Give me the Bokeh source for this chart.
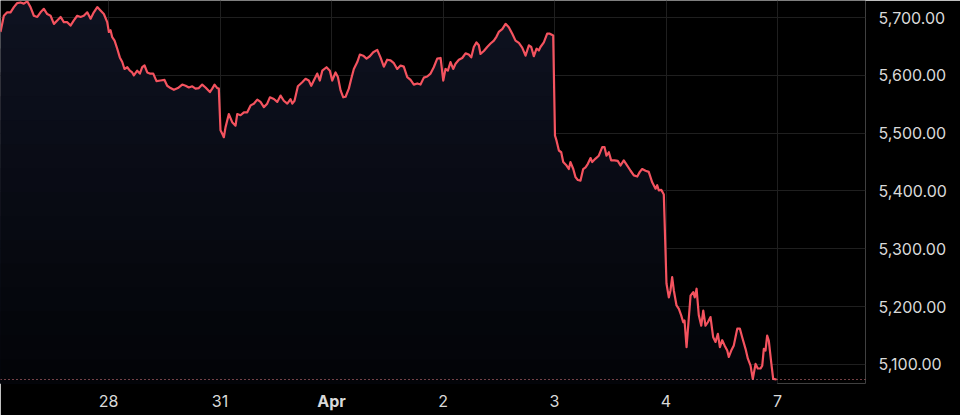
import numpy as np
from bokeh.plotting import figure
from bokeh.models import Range1d, FixedTicker, NumeralTickFormatter, Span, LinearAxis
from bokeh.embed import file_html
from bokeh.resources import INLINE

# ---- data: session position (trading-day index + fraction of session) and index level ----
t_mar27 = [0.031, 0.061, 0.091, 0.121, 0.151, 0.181, 0.211, 0.240, 0.271, 0.300, 0.330, 0.361, 0.390,
           0.420, 0.450, 0.480, 0.510, 0.540, 0.570, 0.599, 0.630, 0.659, 0.689, 0.719, 0.749, 0.778,
           0.809, 0.839, 0.868, 0.899, 0.928, 0.958, 0.988]
p_mar27 = [5675, 5703, 5709, 5709, 5718, 5725, 5726, 5724, 5728, 5718, 5703, 5701, 5709,
           5715, 5706, 5703, 5689, 5695, 5701, 5692, 5692, 5686, 5695, 5703, 5701, 5703,
           5709, 5698, 5709, 5718, 5712, 5706, 5692]

t_mar28 = [1.003, 1.018, 1.033, 1.054, 1.078, 1.101, 1.123, 1.143, 1.168, 1.191, 1.212, 1.227, 1.257,
           1.281, 1.302, 1.323, 1.347, 1.370, 1.401, 1.430, 1.466, 1.502, 1.526, 1.556, 1.586, 1.622,
           1.661, 1.691, 1.720, 1.751, 1.780, 1.810, 1.840, 1.870, 1.909, 1.930, 1.951, 1.975, 1.989]
p_mar28 = [5675, 5678, 5666, 5660, 5646, 5631, 5623, 5611, 5614, 5608, 5605, 5600, 5608,
           5603, 5614, 5617, 5605, 5603, 5603, 5590, 5591, 5592, 5582, 5578, 5575, 5578,
           5584, 5582, 5579, 5581, 5577, 5578, 5584, 5579, 5571, 5577, 5584, 5578, 5577]

t_mar31 = [2.004, 2.020, 2.034, 2.049, 2.079, 2.109, 2.139, 2.154, 2.184, 2.214, 2.244, 2.274, 2.303,
           2.334, 2.363, 2.393, 2.423, 2.447, 2.483, 2.513, 2.543, 2.572, 2.603, 2.632, 2.648, 2.668,
           2.698, 2.737, 2.767, 2.796, 2.818, 2.841, 2.872, 2.895, 2.917, 2.955, 2.985]
p_mar31 = [5505, 5499, 5493, 5510, 5533, 5519, 5513, 5533, 5531, 5536, 5536, 5548, 5551,
           5558, 5554, 5545, 5551, 5562, 5559, 5554, 5565, 5556, 5551, 5559, 5551, 5556,
           5581, 5588, 5594, 5591, 5582, 5591, 5603, 5591, 5608, 5614, 5608]

t_apr1 = [3.006, 3.036, 3.057, 3.081, 3.105, 3.126, 3.155, 3.177, 3.200, 3.231, 3.254, 3.284, 3.314,
          3.343, 3.374, 3.410, 3.439, 3.469, 3.499, 3.529, 3.559, 3.589, 3.619, 3.648, 3.679, 3.709,
          3.738, 3.769, 3.798, 3.828, 3.858, 3.888, 3.917, 3.948, 3.978]
p_apr1 = [5591, 5605, 5597, 5574, 5562, 5563, 5577, 5594, 5611, 5623, 5636, 5634, 5629,
          5633, 5640, 5644, 5631, 5615, 5627, 5626, 5621, 5611, 5617, 5615, 5597, 5592,
          5584, 5586, 5584, 5596, 5598, 5603, 5614, 5629, 5630]

t_apr2 = [4.002, 4.022, 4.043, 4.067, 4.091, 4.112, 4.142, 4.172, 4.202, 4.231, 4.253, 4.276, 4.300,
          4.321, 4.336, 4.366, 4.396, 4.426, 4.456, 4.480, 4.500, 4.531, 4.561, 4.590, 4.621, 4.650,
          4.680, 4.710, 4.740, 4.770, 4.791, 4.814, 4.839, 4.859, 4.874, 4.904, 4.934, 4.958, 4.988]
p_apr2 = [5591, 5611, 5608, 5623, 5611, 5620, 5627, 5630, 5638, 5636, 5631, 5649, 5657,
          5652, 5637, 5642, 5649, 5655, 5660, 5667, 5675, 5680, 5689, 5683, 5672, 5660,
          5656, 5648, 5634, 5652, 5649, 5633, 5646, 5643, 5649, 5657, 5672, 5672, 5669]

t_apr3 = [5.004, 5.018, 5.039, 5.060, 5.078, 5.108, 5.128, 5.143, 5.168, 5.188, 5.209, 5.233, 5.257,
          5.278, 5.299, 5.323, 5.338, 5.368, 5.397, 5.428, 5.448, 5.466, 5.487, 5.508, 5.538, 5.567,
          5.592, 5.621, 5.652, 5.682, 5.711, 5.742, 5.765, 5.786, 5.816, 5.845, 5.876, 5.906, 5.921,
          5.935, 5.957, 5.980]
p_apr3 = [5496, 5487, 5470, 5467, 5450, 5444, 5438, 5450, 5438, 5424, 5419, 5418, 5438,
          5441, 5447, 5457, 5450, 5456, 5461, 5476, 5476, 5461, 5467, 5453, 5453, 5452,
          5444, 5453, 5444, 5435, 5427, 5425, 5433, 5438, 5435, 5433, 5415, 5404, 5410,
          5401, 5402, 5394]

t_apr4 = [6.004, 6.025, 6.040, 6.055, 6.070, 6.094, 6.115, 6.136, 6.154, 6.166, 6.184, 6.205, 6.220,
          6.244, 6.258, 6.274, 6.294, 6.316, 6.334, 6.354, 6.375, 6.399, 6.423, 6.444, 6.465, 6.483,
          6.504, 6.525, 6.549, 6.563, 6.585, 6.608, 6.623, 6.639, 6.662, 6.683, 6.713, 6.734, 6.758,
          6.778, 6.803, 6.823, 6.848, 6.863, 6.877, 6.892, 6.907, 6.922, 6.943, 6.961, 6.991]
p_apr4 = [5240, 5216, 5228, 5251, 5228, 5202, 5196, 5185, 5173, 5176, 5130, 5182, 5219,
          5225, 5216, 5231, 5185, 5167, 5193, 5167, 5173, 5182, 5147, 5139, 5153, 5130,
          5142, 5133, 5124, 5113, 5124, 5133, 5147, 5162, 5162, 5147, 5127, 5110, 5098,
          5075, 5101, 5093, 5093, 5098, 5127, 5124, 5150, 5141, 5104, 5075, 5074]

day_ticks = [0, 1, 2, 3, 4, 5, 6, 7]
day_labels = ["27", "28", "31", "Apr", "2", "3", "4", "7"]
bold_labels = ["Apr"]
price_ticks = [5100, 5200, 5300, 5400, 5500, 5600, 5700]
last_price = 5074

t = np.concatenate([t_mar27, t_mar28, t_mar31, t_apr1, t_apr2, t_apr3, t_apr4]).astype(float)
price = np.concatenate([p_mar27, p_mar28, p_mar31, p_apr1, p_apr2, p_apr3, p_apr4]).astype(float)

# ---- layout ----
Y_TOP, Y_BOT = 5729.4, 5067.1
X_START, X_END = 0.031, 7.789
W, H = 960, 415
BORDER_R, BORDER_B = 95, 32
TEXT = "#d9d9d9"
FONT = "Inter"
FSIZE = "16px"
STANDOFF_X = 11
LABEL_H = 19

p = figure(width=W, height=H, x_range=Range1d(X_START, X_END), y_range=Range1d(Y_BOT, Y_TOP),
           output_backend="svg", toolbar_location=None, y_axis_location="right",
           min_border_left=0, min_border_top=0, min_border_right=BORDER_R, min_border_bottom=0,
           background_fill_color="#000000", border_fill_color="#000000", outline_line_color=None)

# gradient-like area fill below the line
N = 16
levels = np.linspace(Y_TOP, Y_BOT, N + 1)
top_rgb = np.array([14, 18, 32])
bot_rgb = np.array([3, 4, 8])
for k in range(N):
    f = k / (N - 1)
    c = (top_rgb * (1 - f) + bot_rgb * f).round().astype(int)
    col = "#%02x%02x%02x" % tuple(c)
    p.varea(x=t, y1=Y_BOT, y2=np.minimum(price, levels[k]), fill_color=col)

p.line(t, price, line_color="#f4535f", line_width=2.2, line_join="round")

p.add_layout(Span(location=last_price, dimension="width", line_color="#e57f87",
                  line_dash="1 3", line_width=1))

# grid
p.xgrid.ticker = FixedTicker(ticks=day_ticks)
p.ygrid.ticker = FixedTicker(ticks=price_ticks)
for g in (p.xgrid, p.ygrid):
    g.grid_line_color = "#1f1f1f"
    g.grid_line_width = 1


def style_axis(ax, standoff):
    ax.axis_line_color = None
    ax.major_tick_line_color = None
    ax.minor_tick_line_color = None
    ax.major_tick_out = 0
    ax.major_tick_in = 0
    ax.major_label_text_color = TEXT
    ax.major_label_text_font = FONT
    ax.major_label_text_font_size = FSIZE
    ax.major_label_standoff = standoff


# x axis: regular day labels
xa = p.xaxis[0]
xa.ticker = FixedTicker(ticks=day_ticks)
xa.major_label_overrides = {d: ("" if lbl in bold_labels else lbl) for d, lbl in zip(day_ticks, day_labels)}
style_axis(xa, STANDOFF_X)

# second x axis for the bold month label, pulled up onto the same baseline
bold_ticks = [d for d, lbl in zip(day_ticks, day_labels) if lbl in bold_labels]
xb = LinearAxis(ticker=FixedTicker(ticks=bold_ticks),
                major_label_overrides={d: lbl for d, lbl in zip(day_ticks, day_labels) if lbl in bold_labels})
style_axis(xb, -LABEL_H)
xb.major_label_text_font_style = "bold"
p.add_layout(xb, "below")

# y axis (right)
ya = p.yaxis[0]
ya.ticker = FixedTicker(ticks=price_ticks)
ya.formatter = NumeralTickFormatter(format="0,0.00")
style_axis(ya, 13)

p.min_border_bottom = BORDER_B
p.frame_height = H - BORDER_B
p.frame_width = W - BORDER_R

open("out.html", "w").write(file_html(p, INLINE))
